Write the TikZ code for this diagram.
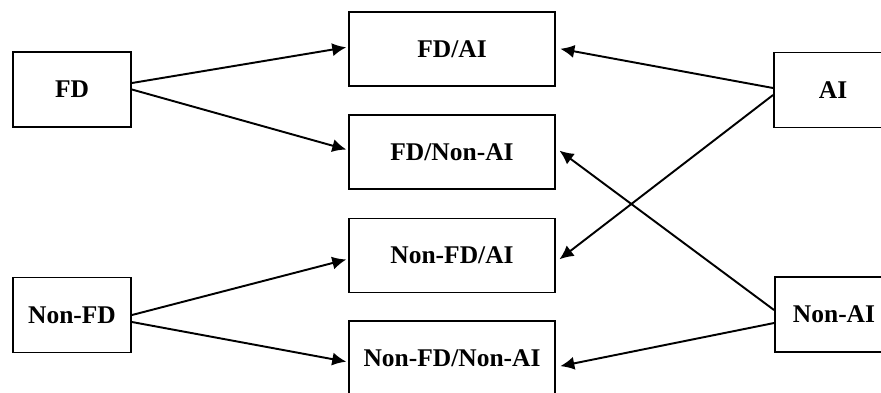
\documentclass[tikz,border=0pt]{standalone}
\usepackage{fontspec}
\setmainfont{Liberation Serif}
\usepackage{tikz}
\usetikzlibrary{arrows.meta,positioning}

\begin{document}
\begin{tikzpicture}[
side/.style={draw, line width=1.1pt, align=center, minimum width=2.36cm, minimum height=1.5cm, font=\bfseries\fontsize{14.5}{16}\selectfont},
combo/.style={draw, line width=1.1pt, align=center, minimum width=4.12cm, minimum height=1.48cm, font=\bfseries\fontsize{14.5}{16}\selectfont},
arrow/.style={-{Latex[length=8pt,width=7.5pt]}, line width=1.1pt}
]
\clip (0,0) rectangle (17.62,-7.84);
% outer factors
\node[side] (fd) at (1.44,-1.79) {FD};
\node[side] (nonfd) at (1.44,-6.30) {Non-FD};
\node[side] (ai) at (16.66,-1.80) {AI};
\node[side] (nonai) at (16.68,-6.29) {Non-AI};
% combinations
\node[combo] (fdai) at (9.04,-0.98) {FD/AI};
\node[combo] (fdnonai) at (9.04,-3.04) {FD/Non-AI};
\node[combo] (nonfdai) at (9.04,-5.11) {Non-FD/AI};
\node[combo] (nonfdnonai) at (9.04,-7.16) {Non-FD/Non-AI};
% left arrows
\draw[arrow, shorten >=1pt] ([yshift=0.13cm]fd.east) -- ([yshift=0.04cm]fdai.west);
\draw[arrow, shorten >=1pt] (fd.east) -- ([yshift=0.04cm]fdnonai.west);
\draw[arrow, shorten >=1pt] (nonfd.east) -- ([yshift=-0.07cm]nonfdai.west);
\draw[arrow, shorten >=1pt] ([yshift=-0.14cm]nonfd.east) -- ([yshift=-0.08cm]nonfdnonai.west);
% right arrows
\draw[arrow, shorten >=2.5pt] ([yshift=0.04cm]ai.west) -- ([yshift=0.02cm]fdai.east);
\draw[arrow, shorten >=2.5pt] ([yshift=-0.10cm]ai.west) -- ([yshift=-0.13cm]nonfdai.east);
\draw[arrow, shorten >=2.5pt] ([yshift=0.09cm]nonai.west) -- ([yshift=0.08cm]fdnonai.east);
\draw[arrow, shorten >=2.5pt] ([yshift=-0.17cm]nonai.west) -- ([yshift=-0.18cm]nonfdnonai.east);
\end{tikzpicture}
\end{document}
